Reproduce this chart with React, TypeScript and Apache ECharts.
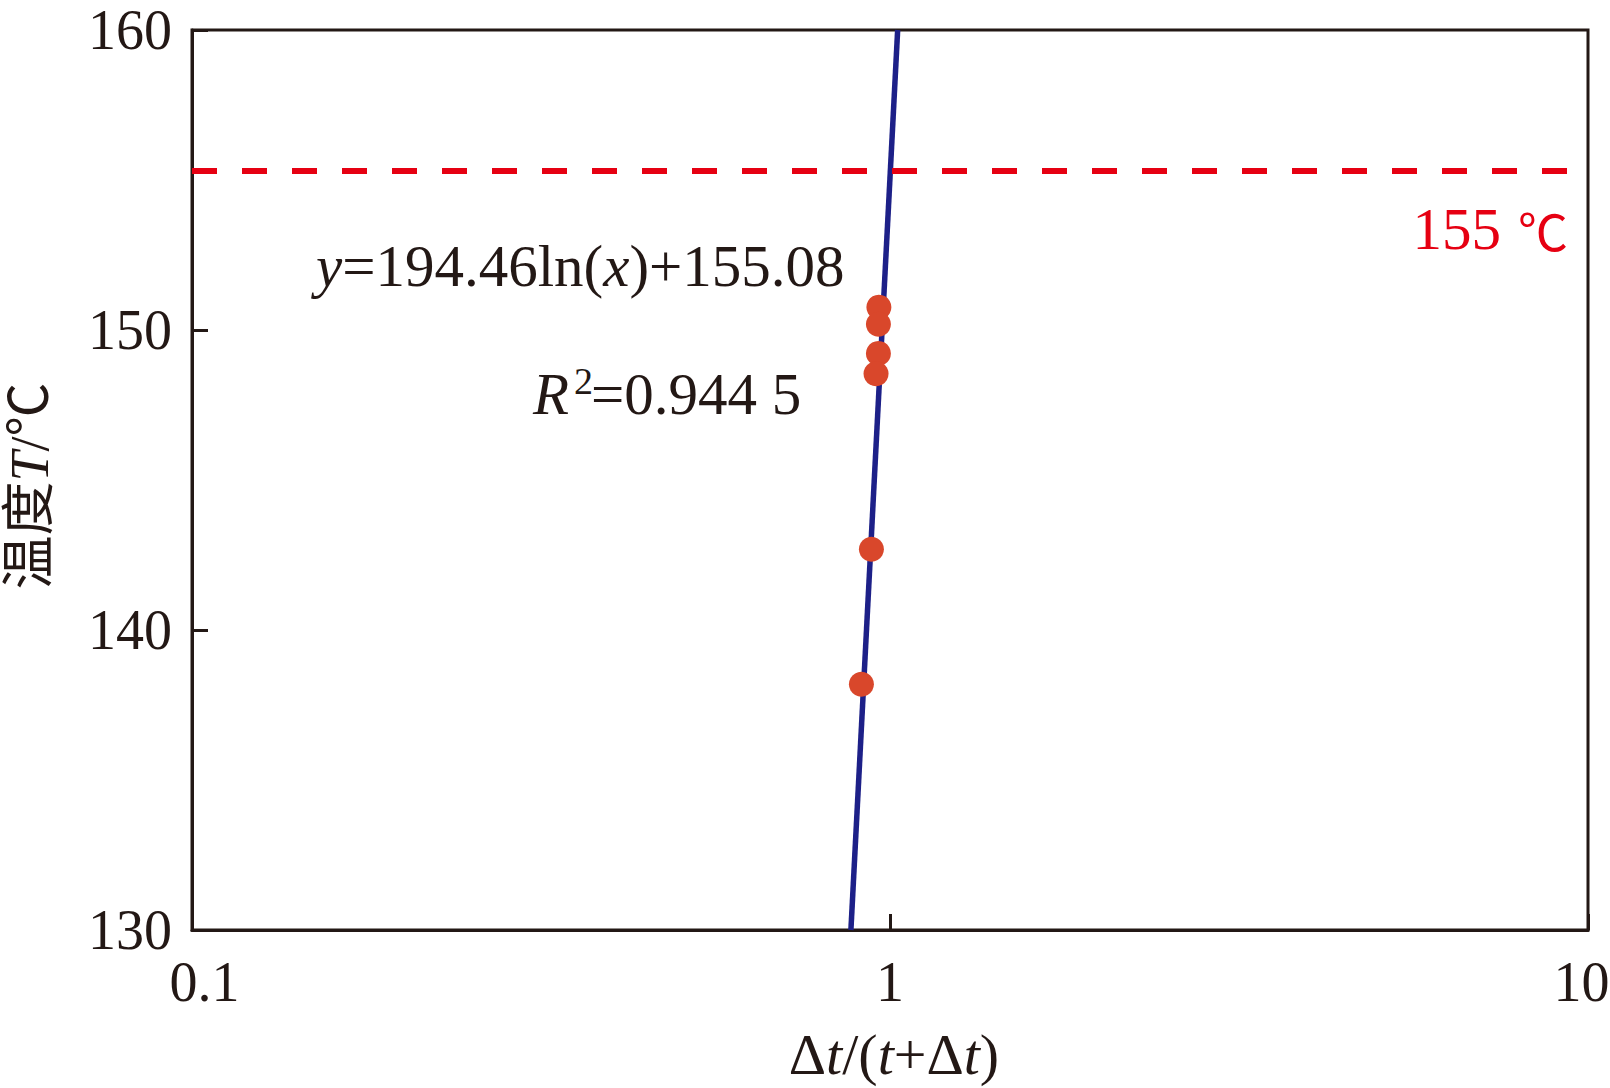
import React, { useEffect, useRef } from "react";
import * as echarts from "echarts";

// ---- data ----
const xTickLabels = ["0.1", "1", "10"];
const yMin = 130;
const yMax = 160;
const yInterval = 10;

const measuredX = [0.964, 0.9625, 0.9625, 0.955, 0.9405, 0.91];
const measuredY = [150.76, 150.19, 149.22, 148.54, 142.69, 138.19];

const fitX = [0.879, 1.0256];
const fitY = [130, 160];

const thresholdX = [0.1, 10];
const thresholdY = [155.3, 155.3];
const thresholdNum = "155";
const thresholdUnit = "℃";

const equationPlain = ["y", "=194.46ln(", "x", ")+155.08"];
const r2Parts = ["R", "2", "=0.944 5"];

const SERIF = "'Liberation Serif', 'Times New Roman', 'Noto Sans CJK SC', serif";
const INK = "#231815";

export default function App() {
  const ref = useRef<HTMLDivElement>(null);

  useEffect(() => {
    document.body.style.margin = "0";
    if (!ref.current) return;
    const chart = echarts.init(ref.current, null, { renderer: "svg", width: 1610, height: 1088 });

    const tok = (size: number, italic = false, color = INK, family = SERIF) => ({
      fontSize: size,
      fontFamily: family,
      fontStyle: italic ? "italic" : "normal",
      fill: color,
      color: color,
    });

    const axisTok = { fontSize: 56, fontFamily: SERIF, color: INK };

    const option: any = {
      animation: false,
      backgroundColor: "#ffffff",
      grid: {
        left: 192,
        top: 30,
        width: 1396,
        height: 900,
        containLabel: false,
        outerBoundsMode: "none",
        show: true,
        borderColor: INK,
        borderWidth: 3,
        backgroundColor: "transparent",
      },
      xAxis: {
        type: "log",
        logBase: 10,
        min: 0.1,
        max: 10,
        axisLine: { show: true, lineStyle: { color: INK, width: 3 } },
        axisTick: { show: true, inside: true, length: 16, lineStyle: { color: INK, width: 3 } },
        minorTick: { show: false },
        splitLine: { show: false },
        axisLabel: {
          fontSize: 56,
          fontFamily: SERIF,
          color: INK,
          margin: 24,
          hideOverlap: false,
          formatter: (v: number) => {
            const idx = Math.round(Math.log10(v)) + 1;
            const s = xTickLabels[idx] ?? String(v);
            if (idx === 0) return `{lo|${s}}`;
            if (idx === xTickLabels.length - 1) return `{hi|${s}}`;
            return `{mid|${s}}`;
          },
          rich: {
            lo: { ...axisTok, padding: [0, 0, 0, 25] },
            mid: { ...axisTok },
            hi: { ...axisTok, padding: [0, 13, 0, 0] },
          },
        },
      },
      yAxis: {
        type: "value",
        min: yMin,
        max: yMax,
        interval: yInterval,
        axisLine: { show: true, lineStyle: { color: INK, width: 3 } },
        axisTick: { show: true, inside: true, length: 16, lineStyle: { color: INK, width: 3 } },
        splitLine: { show: false },
        axisLabel: {
          fontSize: 56,
          fontFamily: SERIF,
          color: INK,
          margin: 20,
        },
      },
      series: [
        {
          type: "line",
          data: fitX.map((x, i) => [x, fitY[i]]),
          symbol: "none",
          lineStyle: { color: "#1d2088", width: 5.5 },
          z: 2,
        },
        {
          type: "line",
          data: thresholdX.map((x, i) => [x, thresholdY[i]]),
          symbol: "none",
          lineStyle: { color: "#e60012", width: 6, type: [25, 25] },
          z: 2,
        },
        {
          type: "scatter",
          data: measuredX.map((x, i) => [x, measuredY[i]]),
          symbol: "circle",
          symbolSize: 25,
          itemStyle: { color: "#d9472b", opacity: 1 },
          z: 3,
        },
      ],
      graphic: [
        {
          type: "text",
          x: 316,
          y: 266,
          z: 10,
          style: {
            text: `{i|${equationPlain[0]}}{n|${equationPlain[1]}}{i|${equationPlain[2]}}{n|${equationPlain[3]}}`,
            rich: { i: tok(59, true), n: tok(59) },
            align: "left",
            verticalAlign: "middle",
          },
        },
        {
          type: "text",
          x: 533,
          y: 394,
          z: 10,
          style: {
            text: r2Parts[0],
            ...tok(59, true),
            align: "left",
            verticalAlign: "middle",
          },
        },
        {
          type: "text",
          x: 574,
          y: 381,
          z: 10,
          style: {
            text: r2Parts[1],
            ...tok(38),
            align: "left",
            verticalAlign: "middle",
          },
        },
        {
          type: "text",
          x: 591,
          y: 394,
          z: 10,
          style: {
            text: r2Parts[2],
            ...tok(59),
            align: "left",
            verticalAlign: "middle",
          },
        },
        {
          type: "text",
          x: 1501,
          y: 229,
          z: 10,
          style: {
            text: thresholdNum,
            ...tok(59, false, "#e60012"),
            align: "right",
            verticalAlign: "middle",
          },
        },
        {
          type: "text",
          x: 1568,
          y: 229,
          z: 10,
          style: {
            text: thresholdUnit,
            ...tok(50, false, "#e60012", "'Noto Sans CJK SC', 'DejaVu Serif', serif"),
            align: "right",
            verticalAlign: "middle",
          },
        },
        {
          type: "text",
          x: 894,
          y: 1054,
          z: 10,
          style: {
            text: "{n|Δ}{i|t}{n|/(}{i|t}{n|+Δ}{i|t}{n|)}",
            rich: { i: tok(58, true), n: tok(58) },
            align: "center",
            verticalAlign: "middle",
          },
        },
        {
          type: "text",
          x: 30,
          y: 486,
          rotation: Math.PI / 2,
          z: 10,
          style: {
            text: "{n|温度}{i|T}{n|/℃}",
            rich: { i: tok(54, true), n: tok(54) },
            align: "center",
            verticalAlign: "middle",
          },
        },
      ],
    };

    chart.setOption(option);
    return () => chart.dispose();
  }, []);

  return (
    <div
      ref={ref}
      style={{ position: "fixed", left: 0, top: 0, width: 1610, height: 1088, background: "#fff" }}
    />
  );
}
